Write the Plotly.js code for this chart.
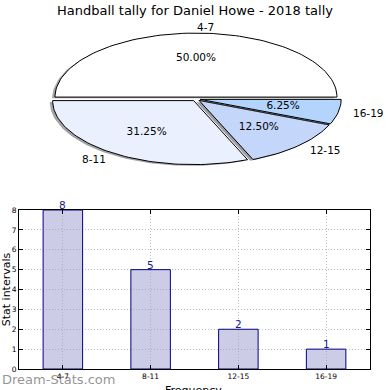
<!DOCTYPE html>
<html><head><meta charset="utf-8">
<script src="https://cdn.plot.ly/plotly-3.0.1.min.js"></script>
<style>html,body{margin:0;padding:0;background:#fff}#chart{width:390px;height:390px}</style>
</head><body><div id="chart"></div>
<script>
// ---- data ----
const categories = ['4-7', '8-11', '12-15', '16-19'];
const counts = [8, 5, 2, 1];
const pieColors = ['#ffffff', '#eaf0fd', '#c5d6fb', '#b3d5fd'];
const titleText = 'Handball tally for Daniel Howe - 2018 tally';
const yTitle = 'Stat intervals';
const xTitle = 'Frequency';
const watermark = 'Dream-Stats.com';

// ---- pie geometry (elliptical, matplotlib-like) ----
const FONT = 'DejaVu Sans, sans-serif';
const explode = 0.03, labelDist = 1.1, pctDist = 0.6, shOff = -0.02;
const total = counts.reduce((a, b) => a + b, 0);
const traces = [];
const annotations = [];
const pctX = [], pctY = [], pctT = [];
function hexToRgb(h){h=h.replace('#','');return [0,2,4].map(i=>parseInt(h.substr(i,2),16));}
let acc = 0;
counts.forEach((c, i) => {
  const frac = c / total;
  const t1 = acc * 2 * Math.PI, t2 = (acc + frac) * 2 * Math.PI;
  acc += frac;
  const mid = (t1 + t2) / 2;
  const ox = explode * Math.cos(mid), oy = explode * Math.sin(mid);
  const n = Math.max(8, Math.ceil(frac * 200));
  const xs = [ox], ys = [oy];
  for (let k = 0; k <= n; k++) {
    const t = t1 + (t2 - t1) * k / n;
    xs.push(ox + Math.cos(t)); ys.push(oy + Math.sin(t));
  }
  xs.push(ox); ys.push(oy);
  const rgb = hexToRgb(pieColors[i]).map(v => Math.round(v * 0.3));
  traces.push({type:'scatter', mode:'lines', x: xs.map(v => v + shOff), y: ys.map(v => v + shOff),
    fill:'toself', fillcolor:`rgba(${rgb[0]},${rgb[1]},${rgb[2]},0.5)`, line:{width:0},
    xaxis:'x2', yaxis:'y2', hoverinfo:'skip', showlegend:false});
  traces.push({type:'scatter', mode:'lines', x: xs, y: ys, fill:'toself', fillcolor: pieColors[i],
    line:{color:'#000', width:1}, xaxis:'x2', yaxis:'y2', hoverinfo:'skip', showlegend:false, name: categories[i]});
  const cx = Math.cos(mid), cy = Math.sin(mid);
  annotations.push({text: categories[i], xref:'x2', yref:'y2', x: ox + labelDist * cx, y: oy + labelDist * cy,
    xanchor: cx >= 0 ? 'left' : 'right', yanchor:'middle', showarrow:false, borderpad:0,
    font:{family:FONT, size:10.5, color:'#000'}});
  pctX.push(ox + pctDist * cx); pctY.push(oy + pctDist * cy);
  pctT.push((100 * frac).toFixed(2) + '%');
});
traces.push({type:'scatter', mode:'text', x: pctX, y: pctY, text: pctT, textposition:'middle center',
  textfont:{family:FONT, size:10.5, color:'#000'}, xaxis:'x2', yaxis:'y2', hoverinfo:'skip', showlegend:false, cliponaxis:false});

// ---- bar chart ----
traces.push({type:'bar', x: categories, y: counts, width: 0.45,
  marker:{color:'rgba(153,153,205,0.5)', line:{color:'#000080', width:1}},
  cliponaxis:false, xaxis:'x', yaxis:'y', showlegend:false, hoverinfo:'x+y'});
categories.forEach((cat, i) => {
  annotations.push({text: String(counts[i]), xref:'x', yref:'y', x: cat, y: counts[i], xanchor:'center', yanchor:'bottom',
    showarrow:false, borderpad:0, yshift:-2, font:{family:FONT, size:10.5, color:'#1a1a8c'}});
});

const axisCommon = {showline:true, linecolor:'#000', linewidth:1, mirror:'ticks', ticks:'inside', ticklen:4,
  tickcolor:'#000', showgrid:true, gridcolor:'#bdbdbd', griddash:'1px,2px', gridwidth:1, zeroline:false,
  tickfont:{family:FONT, size:7.5, color:'#000'}, fixedrange:true};

annotations.push({text:watermark, xref:'paper', yref:'paper', x:0, y:1 - 379/390, xanchor:'left', yanchor:'middle',
  showarrow:false, font:{family:FONT, size:13, color:'rgba(100,100,100,0.7)'}});
// x-axis title, placed as in the reference (partly cut off at the bottom edge)
annotations.push({text:xTitle, xref:'paper', yref:'paper', x:0.496, y:1 - 383/390, xanchor:'center', yanchor:'top',
  showarrow:false, borderpad:0, font:{family:FONT, size:11, color:'#000'}});

const layout = {
  width:390, height:390, margin:{l:0, r:0, t:0, b:0}, paper_bgcolor:'#fff', plot_bgcolor:'#fff',
  showlegend:false,
  title:{text:titleText, font:{family:FONT, size:13, color:'#000'}, x:0.5, xanchor:'center', y:0.974, yanchor:'middle', yref:'paper'},
  xaxis: Object.assign({}, axisCommon, {domain:[0.0487, 0.9487], range:[-0.5, 3.5], type:'category', anchor:'y'}),
  yaxis: Object.assign({}, axisCommon, {domain:[0.0538, 0.4615], range:[0, 8], dtick:1, anchor:'x',
    title:{text:yTitle, font:{family:FONT, size:11, color:'#000'}, standoff:1}}),
  xaxis2:{domain:[0, 1], range:[-1.390, 1.376], visible:false, anchor:'y2', fixedrange:true},
  yaxis2:{domain:[0.4872, 1], range:[-1.578, 1.547], visible:false, anchor:'x2', fixedrange:true},
  annotations: annotations
};
Plotly.newPlot('chart', traces, layout, {displayModeBar:false, staticPlot:true});
</script></body></html>
